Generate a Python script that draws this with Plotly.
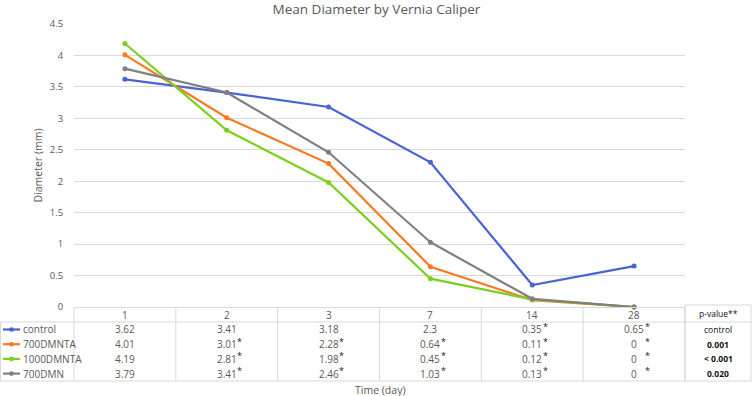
import plotly.graph_objects as go

days = ["1", "2", "3", "7", "14", "28"]
series_names = ["control", "700DMNTA", "1000DMNTA", "700DMN"]
control = [3.62, 3.41, 3.18, 2.3, 0.35, 0.65]
dmnta700 = [4.01, 3.01, 2.28, 0.64, 0.11, 0]
dmnta1000 = [4.19, 2.81, 1.98, 0.45, 0.12, 0]
dmn700 = [3.79, 3.41, 2.46, 1.03, 0.13, 0]
sig_control = [0, 0, 0, 0, 1, 1]
sig_700dmnta = [0, 1, 1, 1, 1, 1]
sig_1000dmnta = [0, 1, 1, 1, 1, 1]
sig_700dmn = [0, 1, 1, 1, 1, 1]
p_values = ["control", "0.001", "< 0.001", "0.020"]
y_ticks = [0, 0.5, 1, 1.5, 2, 2.5, 3, 3.5, 4, 4.5]

colors = ["#4A63D3", "#F97A22", "#7ACF1F", "#7F7F7F"]
values = [control, dmnta700, dmnta1000, dmn700]
sigs = [sig_control, sig_700dmnta, sig_1000dmnta, sig_700dmn]

W, H = 753, 396
L, R, T, B = 74, 685, 24, 307
FONT = "Open Sans"
GREY = "#595959"
BORDER = "#D9D9D9"


def px(p):
    return (p - L) / (R - L)


def py(p):
    return (B - p) / (B - T)


fig = go.Figure()
for name, vals, col in zip(series_names, values, colors):
    fig.add_trace(go.Scatter(
        x=days, y=vals, mode="lines+markers", name=name,
        line=dict(color=col, width=2.2),
        marker=dict(color=col, size=5),
        cliponaxis=False,
    ))

shapes = []
ann = []


def hline(x0, x1, y, color=BORDER):
    shapes.append(dict(type="line", xref="paper", yref="paper",
                       x0=px(x0), x1=px(x1), y0=py(y), y1=py(y),
                       line=dict(color=color, width=1)))


def vline(x, y0, y1, color=BORDER):
    shapes.append(dict(type="line", xref="paper", yref="paper",
                       x0=px(x), x1=px(x), y0=py(y0), y1=py(y1),
                       line=dict(color=color, width=1)))


def text(x, y, s, size=10, color=GREY, xref="paper", xanchor="center", **kw):
    ann.append(dict(x=x, y=py(y), xref=xref, yref="paper", text=s,
                    xanchor=xanchor, yanchor="middle", showarrow=False,
                    font=dict(family=FONT, size=size, color=color), **kw))


# table grid
hline(L, 686, 307.5)
hline(0.5, 751, 322)
hline(0.5, 751, 381)
hline(685, 751, 305)
vline(0.5, 322, 381)
for i in range(7):
    vline(L + i * (R - L) / 6, 307.5, 381)
vline(751, 305, 381)
vline(685, 305, 381)

row_y = [329.5, 344.2, 358.9, 373.6]
header_y = 314.8

for i, d in enumerate(days):
    text(i, header_y, d, xref="x")

for r, (name, vals, sg, col) in enumerate(zip(series_names, values, sigs, colors)):
    y = row_y[r]
    # legend key
    shapes.append(dict(type="line", xref="paper", yref="paper",
                       x0=px(3), x1=px(20), y0=py(y), y1=py(y),
                       line=dict(color=col, width=2.2)))
    shapes.append(dict(type="circle", xref="paper", yref="paper",
                       x0=px(9.2), x1=px(13.8), y0=py(y + 2.3), y1=py(y - 2.3),
                       fillcolor=col, line=dict(color=col, width=0)))
    text(px(20.5), y, name, xanchor="left")
    for i, (v, s) in enumerate(zip(vals, sg)):
        text(i, y, f"{v:g}", xref="x")
        if s:
            text(i, y - 3, "*", size=9, color="#222222", xref="x", xshift=13)
    text(px(718), y, p_values[r] if r == 0 else f"<b>{p_values[r]}</b>",
         size=8.5, color="#111111")

text(px(718), 313.5, "p-value**", size=8.5, color="#111111")
text(px(380), 390, "Time (day)", size=10.5)
text(px(37), 165.5, "Diameter (mm)", size=10.5, textangle=-90)

fig.update_layout(
    width=W, height=H,
    margin=dict(l=L, r=W - R, t=T, b=H - B, pad=0, autoexpand=False),
    paper_bgcolor="white", plot_bgcolor="white",
    showlegend=False,
    hovermode=False,
    title=dict(text="Mean Diameter by Vernia Caliper", x=0.5, xanchor="center",
               y=1 - 9 / H, yanchor="middle",
               font=dict(family=FONT, size=13.5, color=GREY)),
    xaxis=dict(type="category", range=[-0.5, 5.5], showticklabels=False,
               showgrid=False, zeroline=False, showline=False, fixedrange=True,
               automargin=False),
    yaxis=dict(range=[0, 4.5], tickvals=y_ticks, showgrid=True, gridcolor=BORDER,
               gridwidth=1, zeroline=False, showline=False, automargin=False,
               fixedrange=True,
               ticks="outside", ticklen=8, tickcolor="rgba(0,0,0,0)",
               tickfont=dict(family=FONT, size=9.5, color=GREY)),
    shapes=shapes, annotations=ann,
)

fig.write_html("out.html", config={"displayModeBar": False, "staticPlot": True},
               post_script="document.body.style.margin='0';document.body.style.overflow='hidden';")
